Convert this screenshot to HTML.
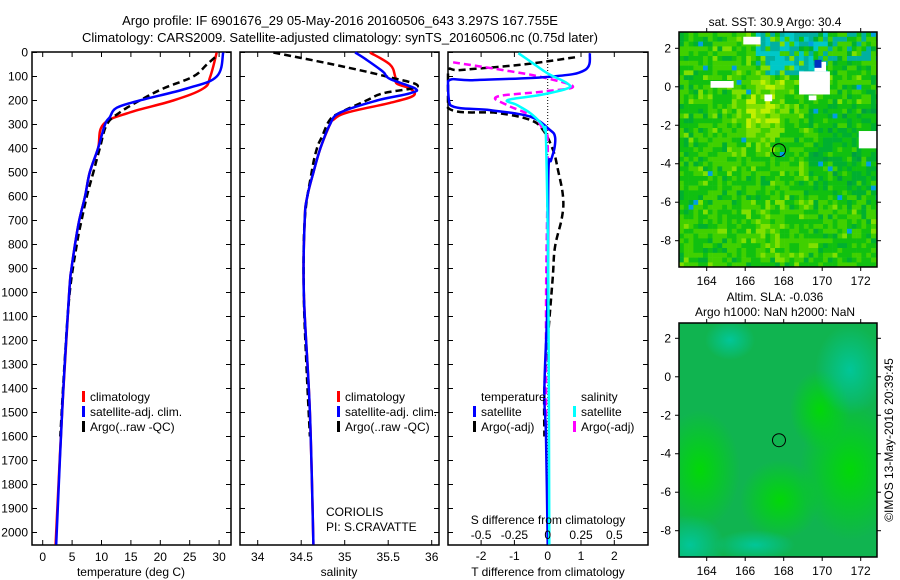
<!DOCTYPE html>
<html><head><meta charset="utf-8"><style>
html,body{margin:0;padding:0;background:#fff;}
svg{display:block;font-family:"Liberation Sans",sans-serif;}
text{font-size:12px;fill:#000;}
</style></head><body>
<svg id="s" width="900" height="580" viewBox="0 0 900 580" xmlns="http://www.w3.org/2000/svg">
<defs>
<clipPath id="c1"><rect x="679" y="32" width="198" height="235"/></clipPath>
<clipPath id="c2"><rect x="679" y="323" width="198" height="234"/></clipPath>
<radialGradient id="gA"><stop offset="0" stop-color="#00dc00" stop-opacity="0.9"/><stop offset="1" stop-color="#00dc00" stop-opacity="0"/></radialGradient>
<radialGradient id="gB"><stop offset="0" stop-color="#00c8a0" stop-opacity="0.9"/><stop offset="1" stop-color="#00c8a0" stop-opacity="0"/></radialGradient>
</defs>
<text x="340" y="25" text-anchor="middle" style="font-size:13px">Argo profile: IF 6901676_29 05-May-2016 20160506_643 3.297S 167.755E</text>
<text x="340" y="42" text-anchor="middle" style="font-size:13px">Climatology: CARS2009. Satellite-adjusted climatology: synTS_20160506.nc (0.75d later)</text>
<g id="maps"></g>
<g id="panels"></g>
</svg>
<script>
// ---------- data ----------
const tClimD=[0,100,150,200,250,300,400,500,600,700,800,900,1000,1500,2050];
const tClimV=[29.6,28.5,27.3,22.2,14.8,10.3,9.4,8.0,7.2,6.2,5.5,4.9,4.5,3.3,2.2];
const tSatD=[0,100,150,200,230,270,300,400,500,600,700,800,900,1000,1500,2050];
const tSatV=[30.7,29.6,24.5,16.5,12.6,11.4,10.6,9.4,8.0,7.2,6.2,5.5,4.9,4.5,3.3,2.3];
const tArgoD=[20,50,100,150,200,250,300,400,500,600,700,800,1000,1300,1600];
const tArgoV=[29.3,27.9,25.6,20.5,16.5,13.1,10.9,9.7,8.6,7.5,6.6,5.8,4.6,3.7,3.0];
const sClimD=[0,50,100,130,150,180,210,250,280,300,400,500,600,700,1000,1500,2050];
const sClimV=[35.29,35.52,35.58,35.6,35.75,35.79,35.52,35.03,34.87,34.83,34.72,34.64,34.57,34.54,34.53,34.6,34.64];
const sSatD=[0,30,80,110,150,170,200,250,300,400,500,600,700,1000,1500,2050];
const sSatV=[35.12,35.25,35.44,35.52,35.81,35.75,35.37,34.95,34.83,34.72,34.64,34.57,34.54,34.53,34.6,34.64];
const sArgoD=[0,50,100,140,170,200,250,280,350,400,500,700,1000,1300,1600];
const sArgoV=[34.18,34.87,35.48,35.84,35.44,35.25,34.95,34.83,34.74,34.68,34.62,34.54,34.53,34.56,34.6];
const dTSatD=[3,73,101,115,120,219,240,267,323,351,400,450,500,1000,1400,1600,2050];
const dTSatV=[1.27,1.12,0.07,-2.2,-3.0,-2.93,-1.73,-0.53,0.07,0.22,0.2,0.1,0.02,0.0,-0.1,-0.05,0.0];
const dTArgoD=[20,50,73,80,231,252,281,323,406,490,600,686,810,940,1200,1400,1600];
const dTArgoV=[0.82,-0.74,-2.6,-3.0,-3.0,-1.5,-0.53,-0.14,0.16,0.31,0.46,0.43,0.22,0.15,0.0,-0.1,-0.1];
const dSSatD=[3,45,87,128,149,177,198,219,253,295,323,378,1000,2050];
const dSSatV=[-0.22,-0.11,0,0.145,0.15,-0.058,-0.3,-0.23,-0.13,-0.05,-0.025,-0.012,0.005,0.012];
const dSArgoD=[41,73,101,142,163,184,219,267,323,378,1000,1600];
const dSArgoV=[-0.71,-0.34,-0.058,0.19,-0.035,-0.38,-0.305,-0.11,-0.035,0,-0.012,-0.012];
const depthTicks=[0,100,200,300,400,500,600,700,800,900,1000,1100,1200,1300,1400,1500,1600,1700,1800,1900,2000];
const tTicks=[0,5,10,15,20,25,30];
const sTicks=[34,34.5,35,35.5,36];
const dTTicks=[-2,-1,0,1,2];
const dSTicks=[-0.5,-0.25,0,0.25,0.5];
const lonTicks=[164,166,168,170,172];
const latTicks=[2,0,-2,-4,-6,-8];

const NS='http://www.w3.org/2000/svg';
function mk(tag,attrs,parent){const e=document.createElementNS(NS,tag);for(const k in attrs)e.setAttribute(k,attrs[k]);(parent||document.getElementById('panels')).appendChild(e);return e;}
const Y0=52.5, TOP=52, BOT=545;
const yD=d=>Y0+d*0.24;
const xT=v=>42.7+v*5.88;
const xS=v=>257.7+(v-34)*87;
const xDT=v=>547.7+v*33.3;
const xDS=v=>547.7+v*4*33.3;
const panels=[[32,231],[240,439],[448,648]];

function frame(i,name){
  const [a,b]=panels[i];
  const r=mk('rect',{x:a,y:TOP,width:b-a,height:BOT-TOP,fill:'none',stroke:'#000','stroke-width':1.5});
  
  
  depthTicks.forEach(d=>{
    mk('line',{x1:a,x2:a+5,y1:yD(d),y2:yD(d),stroke:'#000'});
    mk('line',{x1:b-5,x2:b,y1:yD(d),y2:yD(d),stroke:'#000'});
  });
}
function xticks(i,vals,f){vals.forEach(v=>{const x=f(v);mk('line',{x1:x,x2:x,y1:TOP,y2:TOP+5,stroke:'#000'});mk('line',{x1:x,x2:x,y1:BOT-5,y2:BOT,stroke:'#000'});});}
function clipLine(i,D,V,f,color,dash,name,w){
  const [a,b]=panels[i];
  const P=D.map((d,k)=>[Math.max(a,Math.min(b,f(V[k]))),yD(d)]);
  let s='M'+P[0][0].toFixed(1)+','+P[0][1].toFixed(1);
  for(let k=0;k<P.length-1;k++){
    const p0=P[Math.max(0,k-1)],p1=P[k],p2=P[k+1],p3=P[Math.min(P.length-1,k+2)];
    const t=0.18;
    const c1=[p1[0]+(p2[0]-p0[0])*t,p1[1]+(p2[1]-p0[1])*t];
    const c2=[p2[0]-(p3[0]-p1[0])*t,p2[1]-(p3[1]-p1[1])*t];
    c1[0]=Math.max(a,Math.min(b,c1[0]));c2[0]=Math.max(a,Math.min(b,c2[0]));
    s+=' C'+c1.map(v=>v.toFixed(1))+' '+c2.map(v=>v.toFixed(1))+' '+p2.map(v=>v.toFixed(1));
  }
  const p=mk('path',{d:s,fill:'none',stroke:color,'stroke-width':w||2.5,'stroke-dasharray':dash||'none'});
  
  
}
function txt(x,y,s,anchor,name,extra,parent){const t=mk('text',Object.assign({x:x,y:y,'text-anchor':anchor||'start'},extra||{}),parent);t.textContent=s;return t;}

// panel 1
frame(0,'temperature-panel');
xticks(0,tTicks,xT);
depthTicks.forEach(d=>{txt(28,yD(d)+4,String(d),'end','depth-tick-label');});
tTicks.forEach(v=>txt(xT(v),561,String(v),'middle','temperature-tick-label'));
txt(131,576,'temperature (deg C)','middle','temperature-axis-title');
clipLine(0,tClimD,tClimV,xT,'#f00',null,'temp-climatology-line');
clipLine(0,tArgoD,tArgoV,xT,'#000','7,4','temp-argo-line');
clipLine(0,tSatD,tSatV,xT,'#00f',null,'temp-satellite-line');
// panel 2
frame(1,'salinity-panel');
xticks(1,sTicks,xS);
sTicks.forEach(v=>txt(xS(v),561,String(v),'middle','salinity-tick-label'));
txt(339,576,'salinity','middle','salinity-axis-title');
clipLine(1,sClimD,sClimV,xS,'#f00',null,'sal-climatology-line');
clipLine(1,sArgoD,sArgoV,xS,'#000','7,4','sal-argo-line');
clipLine(1,sSatD,sSatV,xS,'#00f',null,'sal-satellite-line');
txt(326,516,'CORIOLIS','start','source-label');
txt(326,531,'PI: S.CRAVATTE','start','pi-label');
// panel 3
frame(2,'difference-panel');
xticks(2,dTTicks,xDT);
mk('line',{x1:xDT(0),x2:xDT(0),y1:TOP,y2:BOT,stroke:'#000','stroke-dasharray':'1,2','stroke-width':1});
clipLine(2,dTArgoD,dTArgoV,xDT,'#000','7,4','tdiff-argo-line');
clipLine(2,dSArgoD,dSArgoV,xDS,'#f0f','7,4','sdiff-argo-line');
clipLine(2,dTSatD,dTSatV,xDT,'#00f',null,'tdiff-satellite-line');
clipLine(2,dSSatD,dSSatV,xDS,'#0ff',null,'sdiff-satellite-line');
txt(548,524,'S difference from climatology','middle','s-diff-axis-title');
dSTicks.forEach(v=>txt(xDS(v),539,String(v),'middle','s-diff-tick-label'));
dTTicks.forEach(v=>txt(xDT(v),560,String(v),'middle','t-diff-tick-label'));
txt(548,576,'T difference from climatology','middle','t-diff-axis-title');

// legends
function leg(x,y,color,label,name){
  const m=mk('rect',{x:x,y:y-10,width:3,height:11,fill:color});
  
  
  txt(x+8,y,label,'start',name+'-label');
}
leg(82,401,'#f00','climatology','legend-t-climatology');
leg(82,416,'#00f','satellite-adj. clim.','legend-t-satellite');
leg(82,431,'#000','Argo(..raw -QC)','legend-t-argo');
leg(337,401,'#f00','climatology','legend-s-climatology');
leg(337,416,'#00f','satellite-adj. clim.','legend-s-satellite');
leg(337,431,'#000','Argo(..raw -QC)','legend-s-argo');
txt(481,401,'temperature','start','legend-temperature-heading');
txt(581,401,'salinity','start','legend-salinity-heading');
leg(473,416,'#00f','satellite','legend-tdiff-satellite');
leg(473,431,'#000','Argo(-adj)','legend-tdiff-argo');
leg(573,416,'#0ff','satellite','legend-sdiff-satellite');
leg(573,431,'#f0f','Argo(-adj)','legend-sdiff-argo');

// ---------- maps ----------
const M=document.getElementById('maps');
const MX0=679,MX1=877;
const xLon=v=>706.7+(v-164)*19.25;
function mapFrame(top,bot,lat2,name){
  const yLat=v=>lat2+(2-v)*19.24;
  const r=mk('rect',{x:MX0,y:top,width:MX1-MX0,height:bot-top,fill:'none',stroke:'#000','stroke-width':1.5},M);
  
  
  lonTicks.forEach(v=>{mk('line',{x1:xLon(v),x2:xLon(v),y1:top-4,y2:top,stroke:'#000'},M);mk('line',{x1:xLon(v),x2:xLon(v),y1:bot,y2:bot+4,stroke:'#000'},M);
    txt(xLon(v),bot+18,String(v),'middle','lon-tick-label',null,M);});
  latTicks.forEach(v=>{mk('line',{x1:MX0-4,x2:MX0,y1:yLat(v),y2:yLat(v),stroke:'#000'},M);mk('line',{x1:MX1,x2:MX1+4,y1:yLat(v),y2:yLat(v),stroke:'#000'},M);
    txt(MX0-8,yLat(v)+4,String(v),'end','lat-tick-label',null,M);});
  const c=mk('circle',{cx:xLon(167.755),cy:yLat(-3.297),r:6.5,fill:'none',stroke:'#000','stroke-width':1},M);
  
  
}
// SST pixel map (texture)
const g1=mk('g',{'clip-path':'url(#c1)'},M);


const pal=['#00a040','#00b030','#10c010','#40d000','#80e000','#c0f000','#e8e800'];
let seed=7;function rnd(){seed=(seed*16807)%2147483647;return seed/2147483647;}
const cw=4.8;
for(let j=0;j<49;j++){for(let i=0;i<42;i++){
  const x=MX0+i*cw,y=32+j*cw;
  const cx=i/41,cy=j/48;
  let base=2.4+1.8*Math.exp(-((cx-0.42)**2)/0.02-((cy-0.3)**2)/0.04)+1.0*Math.exp(-((cx-0.45)**2)/0.02-((cy-0.85)**2)/0.01)-0.8*(cx>0.65&&cy>0.3&&cy<0.7?1:0);
  let v=Math.round(base+(rnd()-0.5)*2.4);v=Math.max(0,Math.min(6,v));
  let col=pal[v];
  if(cy<0.17&&cx>0.38&&cx<0.75&&rnd()<0.75)col=rnd()<0.5?'#00c8c8':'#00b0a0';
  else if(cy<0.12&&cx>0.75&&rnd()<0.3)col='#00b0a0';
  if(rnd()<0.008)col='#00a0e0';
  mk('rect',{x:x,y:y,width:cw+0.3,height:cw+0.3,fill:col},g1);
}}
[[168.8,0.8,1.6,1.2],[164.2,0.3,1.2,0.35],[171.9,-2.3,1.2,0.9],[165.9,2.6,0.9,0.4],[167.0,-0.4,0.4,0.35],[169.3,-0.45,0.4,0.25],[169.6,1.3,0.6,0.5]].forEach(b=>{
  mk('rect',{x:xLon(b[0]),y:48.3+(2-b[1])*19.24,width:b[2]*19.25,height:b[3]*19.24,fill:'#fff'},g1);});
mk('rect',{x:xLon(169.6),y:48.3+(2-1.4)*19.24,width:7,height:8,fill:'#0030c0'},g1);
mapFrame(32,267,48.3,'sst-map-frame');
// SLA smooth map
const g2=mk('g',{'clip-path':'url(#c2)'},M);


mk('rect',{x:MX0,y:323,width:MX1-MX0,height:234,fill:'#10b450'},g2);
[[850,470,50,70],[700,470,40,60],[780,500,40,40],[820,410,30,40]].forEach(e=>mk('ellipse',{cx:e[0],cy:e[1],rx:e[2],ry:e[3],fill:'url(#gA)'},g2));
[[690,545,35,30],[850,370,35,45],[755,545,40,15],[730,340,25,20]].forEach(e=>mk('ellipse',{cx:e[0],cy:e[1],rx:e[2],ry:e[3],fill:'url(#gB)'},g2));
mapFrame(323,557,338.3,'sla-map-frame');
txt(775,26,'sat. SST: 30.9 Argo: 30.4','middle','sst-map-title',null,M);
txt(775,301,'Altim. SLA: -0.036','middle','sla-map-title',null,M);
txt(775,316,'Argo h1000: NaN h2000: NaN','middle','argo-height-title',null,M);
txt(893,440,'©IMOS 13-May-2016 20:39:45','middle','imos-timestamp',{transform:'rotate(-90 893 440)'},M);
</script>
</body></html>
